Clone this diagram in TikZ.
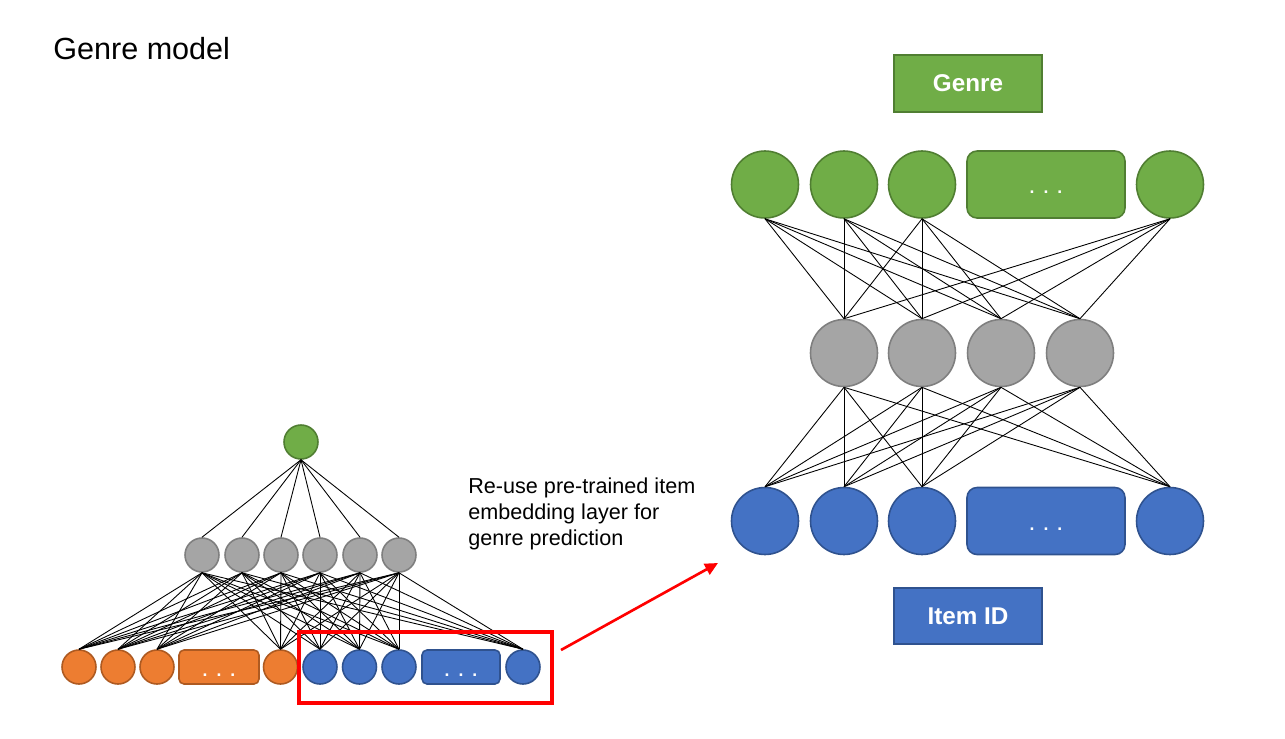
\documentclass[tikz,border=0pt]{standalone}
\usepackage{fontspec}
\setmainfont{Liberation Sans}
\usetikzlibrary{arrows.meta}

\definecolor{grfill}{HTML}{70AD47}
\definecolor{grline}{HTML}{507E32}
\definecolor{blfill}{HTML}{4472C4}
\definecolor{blline}{HTML}{2F528F}
\definecolor{orfill}{HTML}{ED7D31}
\definecolor{orline}{HTML}{AE5A21}
\definecolor{gyfill}{HTML}{A5A5A5}
\definecolor{gyline}{HTML}{7F7F7F}

\newcommand{\hdots}{.\hspace{1.8mm}.\hspace{1.8mm}.}

\tikzset{
	unit/.style={circle, inner sep=0pt, line width=0.9pt},
	bigunit/.style={unit, minimum size=1.34cm},
	smallunit/.style={unit, minimum size=0.68cm},
	gn/.style={fill=grfill, draw=grline},
	bl/.style={fill=blfill, draw=blline},
	og/.style={fill=orfill, draw=orline},
	gy/.style={fill=gyfill, draw=gyline},
	dotsbox/.style={rectangle, line width=0.9pt, text=white, font=\bfseries,
		inner sep=0pt, text height=0.36cm, text depth=0pt},
	link/.style={line width=0.5pt},
	tagbox/.style={rectangle, line width=0.9pt, text=white, minimum width=2.96cm,
		minimum height=1.13cm, font=\fontsize{13.8}{16}\selectfont\bfseries}
}

\begin{document}
\begin{tikzpicture}[x=0.02cm, y=-0.02cm]
		\useasboundingbox (0,0) rectangle (1285,738);
		
		\node [anchor=base west, inner sep=0pt, font=\fontsize{17.4}{20}\selectfont] (title) at (53,59.5) {Genre model};
		
		% small model
		\node [smallunit, gn] (sg) at (301,442) {};
		\foreach \x [count=\i] in {202,242,281,320,360,399}
			\node [smallunit, gy] (sh\i) at (\x,555) {};
		\node [smallunit, og] (so1) at (79,667) {};
		\node [smallunit, og] (so2) at (118,667) {};
		\node [smallunit, og] (so3) at (157,667) {};
		\node [dotsbox, og, rounded corners=0.1cm, minimum width=1.6cm, minimum height=0.68cm] (sodots) at (219,667) {\hdots};
		\node [smallunit, og] (so4) at (280.5,667) {};
		\node [smallunit, bl] (sb1) at (320,667) {};
		\node [smallunit, bl] (sb2) at (359.5,667) {};
		\node [smallunit, bl] (sb3) at (399,667) {};
		\node [dotsbox, bl, rounded corners=0.1cm, minimum width=1.56cm, minimum height=0.68cm] (sbdots) at (461,667) {\hdots};
		\node [smallunit, bl] (sb4) at (523,667) {};
		
		\foreach \i in {1,...,6} {
			\draw [link] (sg.south) -- (sh\i.north);
			\foreach \j in {so1,so2,so3,so4,sb1,sb2,sb3,sb4}
				\draw [link] (sh\i.south) -- (\j.north);
		}
		
		% reused part
		\node [draw=red, line width=1.9pt, minimum width=5.06cm, minimum height=1.42cm] (reuse) at (425.5,667.5) {};
		\node [anchor=north west, inner sep=0pt, align=left, font=\fontsize{12.3}{14.7}\selectfont] (note) at (468,477.5) {Re-use pre-trained item\\embedding layer for\\genre prediction};
		\coordinate (from) at (561,650);
		\coordinate (to) at (718,563);
		\draw [red, line width=1.5pt, -{Triangle[length=2.6mm, width=2.4mm]}] (from) -- (to);
		
		% big model
		\node [tagbox, gn] (genre) at (968,83.5) {Genre};
		\node [tagbox, bl] (item) at (968,616) {Item ID};
		
		\foreach \x [count=\i] in {765,844,922,1170} {
			\node [bigunit, gn] (lg\i) at (\x,184.5) {};
			\node [bigunit, bl] (li\i) at (\x,521) {};
		}
		\foreach \x [count=\i] in {844,922,1001,1080}
			\node [bigunit, gy] (lh\i) at (\x,353) {};
		\node [dotsbox, gn, rounded corners=0.2cm, minimum width=3.16cm, minimum height=1.34cm] (lgdots) at (1046,184.5) {\hdots};
		\node [dotsbox, bl, rounded corners=0.2cm, minimum width=3.16cm, minimum height=1.34cm] (lidots) at (1046,521) {\hdots};
		
		\foreach \i in {1,...,4}
			\foreach \j in {1,...,4} {
				\draw [link] (lg\i.south) -- (lh\j.north);
				\draw [link] (lh\j.south) -- (li\i.north);
			}
	\end{tikzpicture}
\end{document}
